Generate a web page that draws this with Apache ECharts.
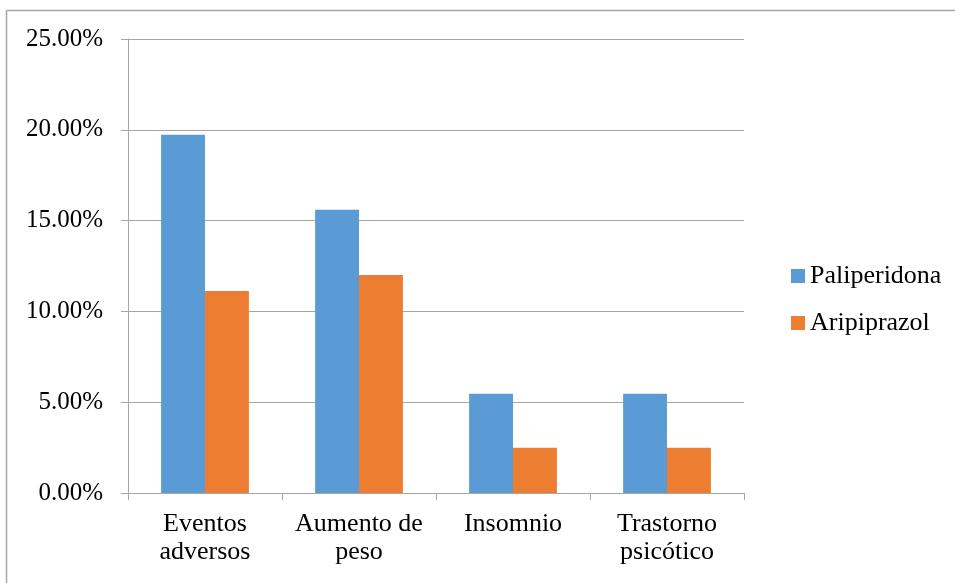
<!DOCTYPE html>
<html>
<head>
<meta charset="utf-8">
<script src="https://cdn.jsdelivr.net/npm/echarts@6/dist/echarts.min.js"></script>
<style>html,body{margin:0;padding:0;background:#fff}#c{width:955px;height:583px}</style>
</head>
<body>
<div id="c"></div>
<script>
const categories = ["Eventos\nadversos", "Aumento de\npeso", "Insomnio", "Trastorno\npsicótico"];
const seriesNames = ["Paliperidona", "Aripiprazol"];
const paliperidona = [19.73, 15.6, 5.46, 5.46];
const aripiprazol = [11.12, 12.0, 2.49, 2.49];
const yTicks = { min: 0, max: 25, interval: 5 };

const font = "Liberation Serif";
const chart = echarts.init(document.getElementById('c'), null, { renderer: 'canvas' });
chart.setOption({
  animation: false,
  backgroundColor: '#fff',
  textStyle: { fontFamily: font },
  graphic: [
    { type: 'line', shape: { x1: 6.5, y1: 10.5, x2: 955, y2: 10.5 }, style: { stroke: '#a6a6a6', lineWidth: 1.5 } },
    { type: 'line', shape: { x1: 6.5, y1: 10.5, x2: 6.5, y2: 583 }, style: { stroke: '#a6a6a6', lineWidth: 1.5 } }
  ],
  grid: { left: 128, right: 211, top: 39, bottom: 90, containLabel: false },
  legend: {
    orient: 'vertical', left: 786, top: 258,
    itemWidth: 14, itemHeight: 14, itemGap: 21,
    icon: 'rect',
    textStyle: { fontFamily: font, fontSize: 26, color: '#000' },
    data: seriesNames
  },
  xAxis: {
    type: 'category', data: categories,
    axisLine: { lineStyle: { color: '#a6a6a6', width: 1 } },
    axisTick: { show: true, length: 7, lineStyle: { color: '#a6a6a6' } },
    axisLabel: { fontFamily: font, fontSize: 26, color: '#000', lineHeight: 28, margin: 17, interval: 0 }
  },
  yAxis: {
    type: 'value', min: yTicks.min, max: yTicks.max, interval: yTicks.interval,
    axisLine: { show: true, lineStyle: { color: '#a6a6a6', width: 1 } },
    axisTick: { show: true, length: 7, lineStyle: { color: '#a6a6a6' } },
    splitLine: { lineStyle: { color: '#a6a6a6', width: 1 } },
    axisLabel: { fontFamily: font, fontSize: 25, color: '#000', margin: 25, formatter: v => v.toFixed(2) + '%' }
  },
  series: [
    { name: seriesNames[0], type: 'bar', data: paliperidona, itemStyle: { color: '#5B9BD5' }, barGap: '0%', barCategoryGap: '43%' },
    { name: seriesNames[1], type: 'bar', data: aripiprazol, itemStyle: { color: '#ED7D31' }, barGap: '0%', barCategoryGap: '43%' }
  ]
});
</script>
</body>
</html>
